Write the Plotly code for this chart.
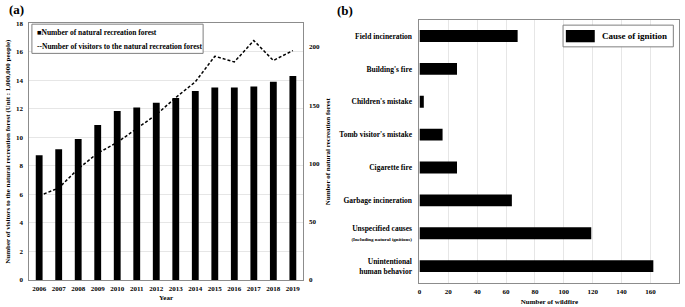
import plotly.graph_objects as go

W, H = 685, 307

years = [str(y) for y in range(2006, 2020)]
forests = [107, 112, 121, 133, 145, 148, 152, 156, 162, 165, 165, 166, 170, 175]
visitors = [5.9, 6.45, 7.8, 8.9, 9.65, 10.65, 11.6, 12.8, 13.9, 15.7, 15.3, 16.8, 15.4, 16.1]

causes = ["Field incineration", "Building's fire", "Children's mistake",
          "Tomb visitor's mistake", "Cigarette fire", "Garbage incineration",
          "Unspecified causes", "Unintentional human behavior"]
cause_labels = ["Field incineration", "Building's fire", "Children's mistake",
                "Tomb visitor's mistake", "Cigarette fire", "Garbage incineration",
                "Unspecified causes<br><span style='font-size:5px'>(Including natural ignitions)</span>",
                "Unintentional<br>human behavior"]
wildfires = [68, 26, 3, 16, 26, 64, 119, 162]

FONT = "Liberation Serif"
GRID = "#e6e6e6"
AX = "#8c8c8c"

def px(x):
    return x / W

def py(y):
    return 1 - y / H

fig = go.Figure()

fig.add_trace(go.Bar(x=years, y=forests, yaxis="y2", xaxis="x",
                     marker=dict(color="black", line=dict(width=0)),
                     width=0.35, name="Number of natural recreation forest",
                     showlegend=False))
fig.add_trace(go.Scatter(x=years, y=visitors, yaxis="y", xaxis="x", mode="lines",
                         line=dict(color="black", width=1.5, dash="3px,2px"),
                         name="Number of visitors to the natural recreation forest",
                         showlegend=False))
fig.add_trace(go.Bar(y=causes, x=wildfires, orientation="h", xaxis="x2", yaxis="y3",
                     marker=dict(color="black", line=dict(width=0)), width=0.36,
                     name="Cause of ignition", showlegend=False))

tickf = dict(family=FONT, size=7, color="#000000", weight="bold")
titlef = dict(family=FONT, size=7, color="#000000", weight="bold")

fig.update_layout(
    width=W, height=H, autosize=False,
    margin=dict(l=0, r=0, t=0, b=0),
    paper_bgcolor="white", plot_bgcolor="white",
    font=dict(family=FONT, color="#000000", weight="bold"),
    xaxis=dict(domain=[px(27.5), px(301.5)], type="category", range=[-0.5, 13.5],
               showline=True, linecolor=AX, linewidth=1, mirror=True,
               ticks="", tickfont=tickf, ticklabelstandoff=2,
               title=dict(text="Year", font=titlef, standoff=2)),
    yaxis=dict(domain=[py(283.3), py(20)], range=[0, 18], dtick=2,
               showgrid=True, gridcolor=GRID, gridwidth=1, zeroline=False,
               showline=True, linecolor=AX, linewidth=1, ticks="",
               tickfont=tickf, ticklabelstandoff=4,
               title=dict(text="Number of visitors to the natural recreation forest (Unit : 1,000,000 people)",
                          font=titlef, standoff=4)),
    yaxis2=dict(overlaying="y", side="right", anchor="x", range=[0, 220],
                tickvals=[0, 50, 100, 150, 200], showgrid=False, zeroline=False,
                showline=True, linecolor=AX, linewidth=1, ticks="",
                tickfont=tickf, ticklabelstandoff=4,
                title=dict(text="Number of natural recreation forest", font=titlef, standoff=6)),
    xaxis2=dict(domain=[px(418.7), px(679.3)], anchor="y3", range=[0, 180], dtick=20,
                showgrid=True, gridcolor=GRID, zeroline=False,
                showline=True, linecolor=AX, linewidth=1, mirror=True, ticks="",
                tickfont=tickf, ticklabelstandoff=2,
                title=dict(text="Number of wildfire", font=titlef, standoff=4)),
    yaxis3=dict(domain=[py(286), py(16)], anchor="x2", type="category",
                autorange="reversed", tickvals=causes, ticktext=cause_labels,
                showline=True, linecolor=AX, linewidth=1, mirror=True, ticks="",
                tickfont=dict(family=FONT, size=7.5, color="#000000", weight="bold"),
                ticklabelstandoff=5, showgrid=False),
)

# panel labels
fig.add_annotation(x=px(5), y=py(6), xref="paper", yref="paper", text="(a)",
                   showarrow=False, xanchor="left", yanchor="middle",
                   font=dict(family=FONT, size=13, weight="bold"))
fig.add_annotation(x=px(334), y=py(6.5), xref="paper", yref="paper", text="(b)",
                   showarrow=False, xanchor="left", yanchor="middle",
                   font=dict(family=FONT, size=13, weight="bold"))

# legend (a)
fig.add_shape(type="rect", xref="paper", yref="paper",
              x0=px(30), x1=px(201.7), y0=py(50.7), y1=py(20.7),
              line=dict(color="#7f7f7f", width=1), fillcolor="white", layer="above")
fig.add_annotation(x=px(33), y=py(29), xref="paper", yref="paper",
                   text="■Number of natural recreation forest", showarrow=False,
                   xanchor="left", yanchor="middle",
                   font=dict(family=FONT, size=7.5, weight="bold"))
fig.add_annotation(x=px(33), y=py(43.3), xref="paper", yref="paper",
                   text="--Number of visitors to the natural recreation forest", showarrow=False,
                   xanchor="left", yanchor="middle",
                   font=dict(family=FONT, size=7.5, weight="bold"))

# legend (b)
fig.add_shape(type="rect", xref="paper", yref="paper",
              x0=px(562.7), x1=px(673.3), y0=py(44), y1=py(21.7),
              line=dict(color="#7f7f7f", width=1), fillcolor="white", layer="above")
fig.add_shape(type="rect", xref="paper", yref="paper",
              x0=px(565.5), x1=px(594.5), y0=py(39.3), y1=py(26.7),
              line=dict(width=0), fillcolor="black", layer="above")
fig.add_annotation(x=px(600), y=py(33), xref="paper", yref="paper",
                   text="Cause of ignition", showarrow=False,
                   xanchor="left", yanchor="middle",
                   font=dict(family=FONT, size=9, weight="bold"))

fig.write_html("out.html",
               config={"displayModeBar": False},
               post_script="document.body.style.margin='0';document.body.style.padding='0';"
                           "document.body.style.overflow='hidden';")
